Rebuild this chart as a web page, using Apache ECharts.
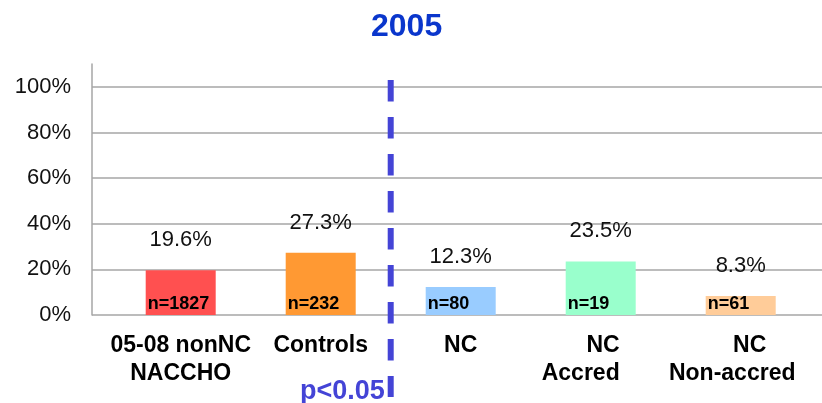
<!DOCTYPE html>
<html><head><meta charset="utf-8">
<script src="https://cdn.jsdelivr.net/npm/echarts@6/dist/echarts.min.js"></script>
<style>html,body{margin:0;padding:0;background:#fff}#c{width:822px;height:403px}</style>
</head><body><div id="c"></div>
<script>
const titleText = '2005';
const categories = ['05-08 nonNC\nNACCHO', 'Controls', 'NC', 'NC\nAccred', 'NC\nNon-accred'];
const percentValues = [19.6, 27.3, 12.3, 23.5, 8.3];
const sampleSizes = [1827, 232, 80, 19, 61];
const barColors = ['#ff5050', '#ff9933', '#99ccff', '#99ffcc', '#ffcc99'];
const yTickLabels = ['0%', '20%', '40%', '60%', '80%', '100%'];
const dividerPosition = 1.5;   // boundary between "Controls" and "NC"
const significanceText = 'p<0.05';

const FONT = "'Liberation Sans', Arial, sans-serif";
const BLUE = '#4444d6';

const chart = echarts.init(document.getElementById('c'), null, {renderer: 'canvas'});

const xLabelFormatter = function (value, idx) {
  const lines = value.split('\n');
  if (idx === 3) return lines.map(l => '{r3|' + l + '}').join('\n');
  if (idx === 4) return '{c4a|' + lines[0] + '}\n{c4b|' + lines[1] + '}';
  return lines.map(l => '{c|' + l + '}').join('\n');
};
const baseRich = {fontFamily: FONT, fontWeight: 'bold', fontSize: 23, lineHeight: 28, color: '#000'};

chart.setOption({
  animation: false,
  title: [
    {text: titleText, left: 366, top: 6,
     textStyle: {fontFamily: FONT, fontWeight: 'bold', fontSize: 32, color: '#0a36cc'}},
    {text: significanceText, left: 295, top: 373,
     textStyle: {fontFamily: FONT, fontWeight: 'bold', fontSize: 27, color: BLUE}}
  ],
  grid: [
    {left: 92, right: 0, top: 64, bottom: 88},
    {left: 110.7, width: 700, top: 64, bottom: 88},
    {left: 92, right: 0, top: 80, bottom: 6}
  ],
  xAxis: [
    {gridIndex: 0, type: 'value', show: false, min: 0, max: 1},
    {gridIndex: 1, type: 'category', data: categories,
     axisLine: {show: false}, axisTick: {show: false},
     axisLabel: {interval: 0, margin: 17, formatter: xLabelFormatter,
       rich: {
         c: Object.assign({}, baseRich),
         r3: Object.assign({}, baseRich, {align: 'right', padding: [0, 40, 0, 0]}),
         c4a: Object.assign({}, baseRich, {padding: [0, 0, 0, 18]}),
         c4b: Object.assign({}, baseRich, {padding: [0, 17, 0, 0]})
       }}},
    {gridIndex: 2, type: 'value', show: false, min: -0.6336, max: 4.5807}
  ],
  yAxis: [
    {gridIndex: 0, type: 'value', min: 0, max: 110, interval: 20,
     axisLine: {show: true, lineStyle: {color: '#a6a6a6', width: 1.5}},
     axisTick: {show: false},
     axisLabel: {margin: 21, showMaxLabel: false, color: '#111', fontFamily: FONT, fontSize: 22,
       formatter: v => yTickLabels[v / 20] || ''},
     splitLine: {show: true, showMaxLine: false, lineStyle: {color: '#a6a6a6', width: 1.5}}},
    {gridIndex: 1, type: 'value', min: 0, max: 110, show: false},
    {gridIndex: 2, type: 'value', min: 0, max: 1, show: false}
  ],
  series: [
    {type: 'bar', xAxisIndex: 1, yAxisIndex: 1, barWidth: '50%',
     data: percentValues.map((v, i) => ({value: v, itemStyle: {color: barColors[i]}})),
     label: {show: true, position: 'insideBottomLeft', distance: 2,
       formatter: p => 'n=' + sampleSizes[p.dataIndex],
       fontFamily: FONT, fontWeight: 'bold', fontSize: 18, color: '#000'}},
    {type: 'bar', xAxisIndex: 1, yAxisIndex: 1, barWidth: '50%', barGap: '-100%',
     data: percentValues, itemStyle: {color: 'rgba(0,0,0,0)'}, silent: true,
     label: {show: true, position: 'top', distance: 19,
       formatter: p => p.value + '%',
       fontFamily: FONT, fontSize: 22, color: '#111'}},
    {type: 'line', xAxisIndex: 2, yAxisIndex: 2, symbol: 'none', silent: true,
     data: [[dividerPosition, 1], [dividerPosition, 0]],
     lineStyle: {color: BLUE, width: 6, type: [21.5, 15.5], cap: 'butt'}}
  ]
});
</script></body></html>
